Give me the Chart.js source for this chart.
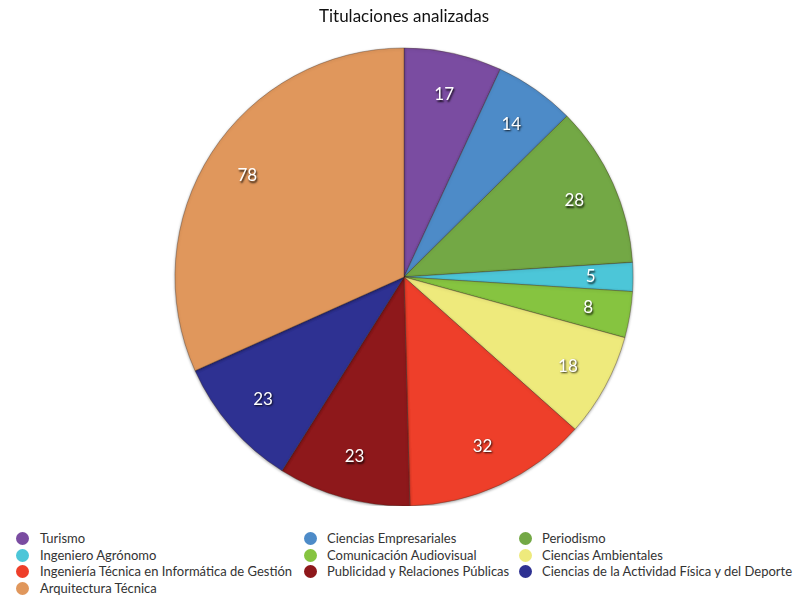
<!DOCTYPE html>
<html>
<head>
<meta charset="utf-8">
<script src="https://cdn.jsdelivr.net/npm/chart.js@4"></script>
<style>
  html, body { margin: 0; padding: 0; background: #fff; }
  #wrap { position: relative; width: 798px; height: 598px; }
  #c { position: absolute; left: 0; top: 0; }
  #legend { position: absolute; left: 0; top: 530px; width: 798px; font-family: Lato, "Open Sans", sans-serif; font-size: 13px; color: #333; }
  .item { position: absolute; height: 17px; line-height: 17px; white-space: nowrap; }
  .dot { position: absolute; width: 13px; height: 13px; border-radius: 50%; top: 2px; }
  .txt { position: absolute; }
</style>
</head>
<body>
<div id="wrap">
  <canvas id="c" width="798" height="506"></canvas>
  <div id="legend"></div>
</div>
<script>
const categories = [
  "Turismo",
  "Ciencias Empresariales",
  "Periodismo",
  "Ingeniero Agrónomo",
  "Comunicación Audiovisual",
  "Ciencias Ambientales",
  "Ingeniería Técnica en Informática de Gestión",
  "Publicidad y Relaciones Públicas",
  "Ciencias de la Actividad Física y del Deporte",
  "Arquitectura Técnica"
];
const values = [17, 14, 28, 5, 8, 18, 32, 23, 23, 78];
const colors = ["#7a4ca1", "#4d8bc8", "#73a845", "#4cc6d8", "#86c440", "#eeea7c", "#ee3f2a", "#8e181b", "#2e3192", "#e0975c"];
const chartTitle = "Titulaciones analizadas";

const labelPlugin = {
  id: 'sliceLabels',
  afterDatasetsDraw(chart) {
    const ctx = chart.ctx;
    const meta = chart.getDatasetMeta(0);
    ctx.save();
    ctx.font = '17px Lato, "Open Sans", sans-serif';
    ctx.textAlign = 'center';
    ctx.textBaseline = 'middle';
    meta.data.forEach((arc, i) => {
      const p = arc.getProps(['x', 'y', 'startAngle', 'endAngle', 'outerRadius'], true);
      const mid = (p.startAngle + p.endAngle) / 2;
      const r = p.outerRadius * 0.815;
      const x = p.x + Math.cos(mid) * r;
      const y = p.y + Math.sin(mid) * r;
      ctx.shadowColor = 'rgba(0,0,0,0.85)';
      ctx.shadowBlur = 2;
      ctx.shadowOffsetX = 1;
      ctx.shadowOffsetY = 1.5;
      ctx.fillStyle = '#ffffff';
      ctx.fillText(String(chart.data.datasets[0].data[i]), x, y);
    });
    ctx.restore();
  }
};

const shadowPlugin = {
  id: 'pieShadow',
  beforeDatasetsDraw(chart) {
    const ctx = chart.ctx;
    ctx.save();
    ctx.shadowColor = 'rgba(0,0,0,0.35)';
    ctx.shadowBlur = 3;
    ctx.shadowOffsetY = 1;
  },
  afterDatasetsDraw(chart) {
    chart.ctx.restore();
  }
};

new Chart(document.getElementById('c'), {
  type: 'pie',
  data: {
    labels: categories,
    datasets: [{
      data: values,
      backgroundColor: colors,
      borderColor: 'rgba(60,40,30,0.35)',
      borderWidth: 1,
      hoverOffset: 0
    }]
  },
  options: {
    responsive: false,
    animation: false,
    radius: 229,
    layout: { padding: { left: 10, right: 0, top: 0, bottom: 0 } },
    plugins: {
      legend: { display: false },
      tooltip: { enabled: false },
      title: {
        display: true,
        text: chartTitle,
        color: '#111',
        font: { family: 'Lato, "Open Sans", sans-serif', size: 17, weight: 'normal' },
        padding: { top: 6, bottom: 21.6 }
      }
    }
  },
  plugins: [shadowPlugin, labelPlugin]
});

// HTML legend in a 3-column grid
const legend = document.getElementById('legend');
const colDot = [16, 304, 519];
const colTxt = [40, 327, 542];
categories.forEach((name, i) => {
  const row = Math.floor(i / 3), col = i % 3;
  const item = document.createElement('div');
  item.className = 'item';
  item.style.top = (row * 16.6) + 'px';
  item.style.left = '0px';
  const dot = document.createElement('span');
  dot.className = 'dot';
  dot.style.left = colDot[col] + 'px';
  dot.style.background = colors[i];
  const txt = document.createElement('span');
  txt.className = 'txt';
  txt.style.left = colTxt[col] + 'px';
  txt.textContent = name;
  item.appendChild(dot);
  item.appendChild(txt);
  legend.appendChild(item);
});
</script>
</body>
</html>
